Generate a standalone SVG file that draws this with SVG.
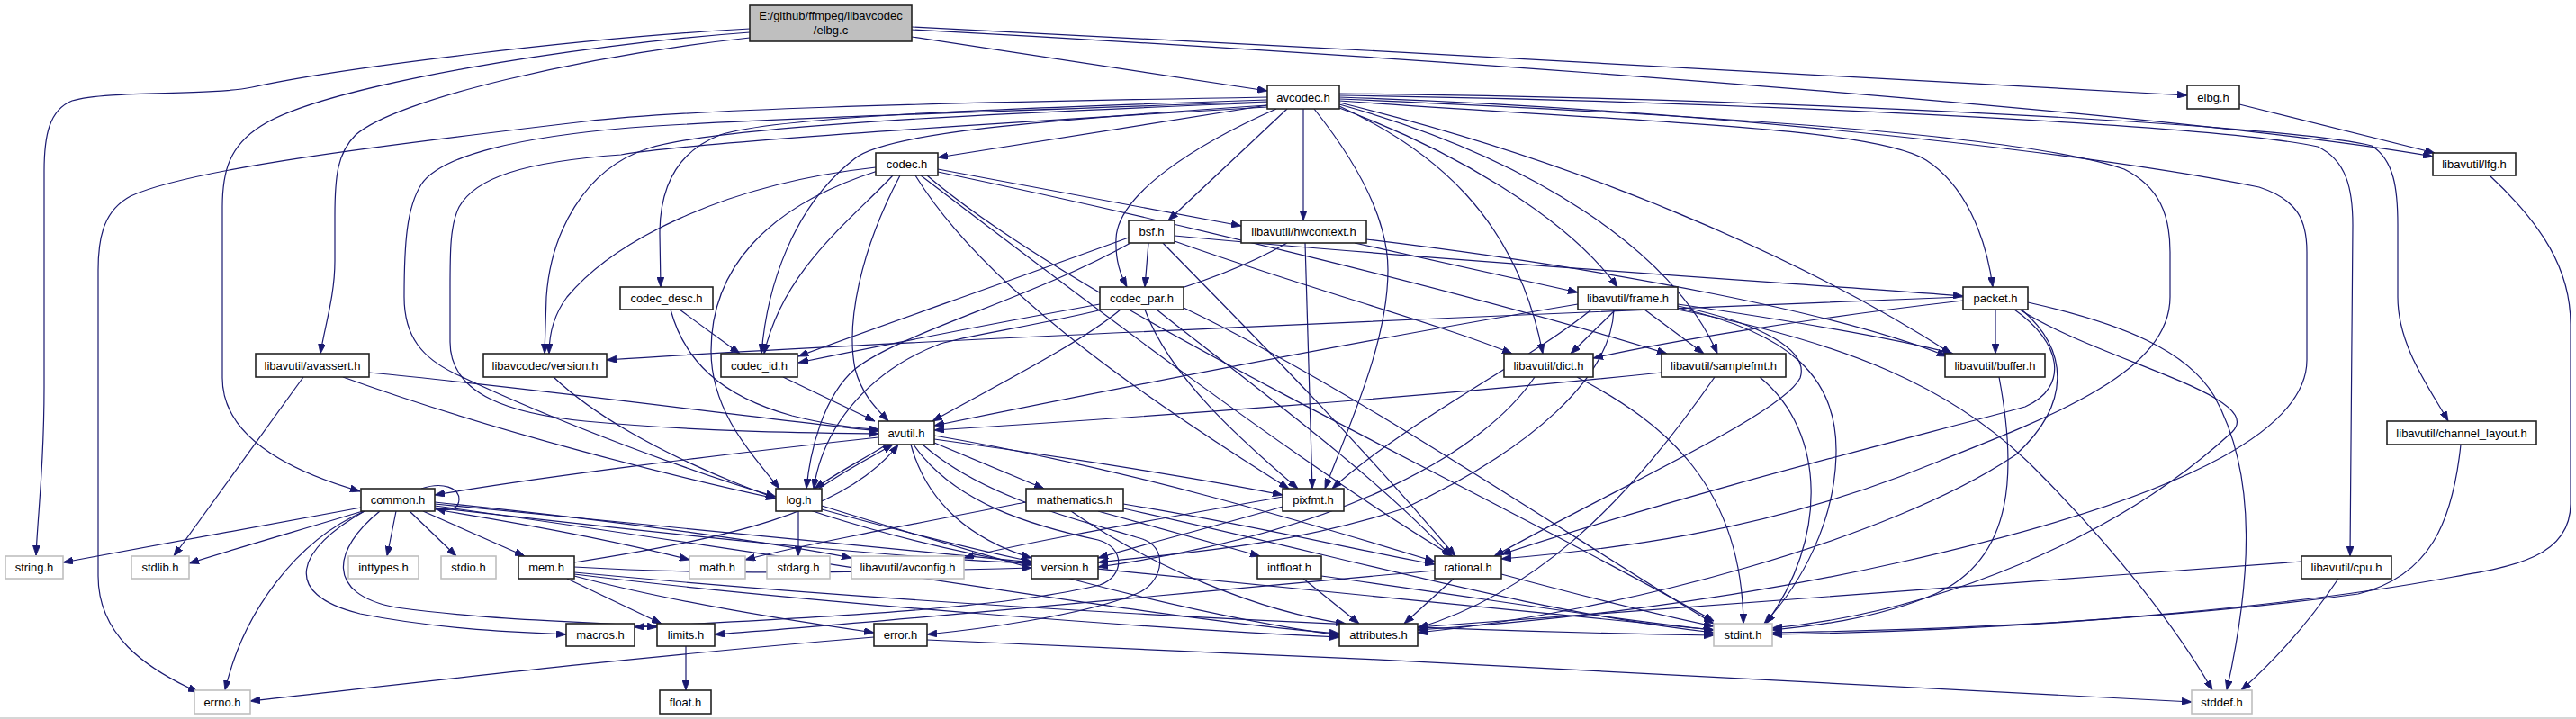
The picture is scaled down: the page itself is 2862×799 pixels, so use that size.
<svg xmlns="http://www.w3.org/2000/svg" width="2862" height="799" viewBox="0 0 2862 799">
<style>
.n rect{fill:#fff;stroke:#222;stroke-width:1.6}
.s rect{fill:#fff;stroke:#bfbfbf;stroke-width:1.6}
.r rect{fill:#bfbfbf;stroke:#222;stroke-width:1.6}
text{font-family:"Liberation Sans",Arial,sans-serif;font-size:13px;fill:#000;text-anchor:middle}
#edges path{fill:none;stroke:#191970;stroke-width:1.2;marker-end:url(#a)}
</style>
<defs>
<marker id="a" markerUnits="userSpaceOnUse" markerWidth="11" markerHeight="8" refX="11" refY="4" orient="auto">
<path d="M0,0 L11,4 L0,8 z" fill="#191970" stroke="#191970" stroke-width="0.8"/>
</marker>
</defs>
<rect x="0" y="0" width="2862" height="799" fill="#fff"/>
<line x1="0" y1="798" x2="2862" y2="798" stroke="#c8c8c8" stroke-width="1.5"/>
<g id="edges">
<path d="M833,32 C650,42 380,75 280,97 C230,107 120,100 80,112 C55,122 49,150 49,190 L49,430 C49,520 42,570 40,617"/>
<path d="M833,36 C640,50 360,95 290,140 C255,162 247,190 247,230 L247,420 C247,480 310,520 400,546"/>
<path d="M833,42 C650,62 440,110 395,150 C375,170 372,195 372,240 L372,290 C372,330 360,365 356,393"/>
<path d="M1013,41 L1408,101"/>
<path d="M1013,30 C1500,55 2150,88 2430,106"/>
<path d="M1013,33 C1700,70 2450,130 2703,174"/>
<path d="M2488,116 L2705,170"/>
<path d="M2766,195 C2825,250 2856,300 2856,360 L2856,560 C2856,620 2790,630 2720,642 C2580,668 2300,700 1969,705"/>
<path d="M1408,108 C1000,115 760,122 650,135 C420,162 210,188 145,218 C117,233 109,260 109,300 L109,640 C109,705 160,742 220,769"/>
<path d="M1408,111 C1100,121 860,130 800,150 C748,170 733,215 733,260 L734,319"/>
<path d="M1408,114 C1100,126 800,140 720,165 C648,188 612,260 607,330 L605,393"/>
<path d="M1408,117 C1150,134 985,148 950,176 C880,230 852,320 846,393"/>
<path d="M1408,119 C1050,140 760,160 690,172 C580,180 528,198 510,230 C500,250 500,280 500,320 L500,380 C500,440 570,460 650,468 C780,480 900,481 976,482"/>
<path d="M1408,113 C1100,124 820,133 700,142 C580,152 490,172 468,205 C452,230 449,270 449,330 C449,375 470,398 505,415 C620,470 770,525 862,552"/>
<path d="M1408,117 L1042,175"/>
<path d="M1430,121 L1298,245"/>
<path d="M1418,121 C1330,160 1242,215 1240,265 C1239,290 1245,305 1252,319"/>
<path d="M1448,121 L1448,245"/>
<path d="M1460,121 C1515,190 1542,250 1542,300 C1542,380 1500,470 1472,543"/>
<path d="M1488,118 C1590,165 1685,240 1714,393"/>
<path d="M1488,120 C1610,165 1740,240 1797,319"/>
<path d="M1488,116 C1700,175 1860,280 1908,393"/>
<path d="M1488,114 C1800,190 2040,310 2168,393"/>
<path d="M1488,112 C1800,135 2080,140 2140,178 C2182,205 2206,260 2214,319"/>
<path d="M1488,110 C1900,128 2250,150 2360,188 C2400,208 2411,240 2411,280 L2411,330 C2411,420 2260,470 2110,530 C1950,590 1800,610 1668,621"/>
<path d="M1488,108 C1900,122 2320,170 2510,208 C2553,222 2563,245 2563,280 L2563,400 C2563,485 2400,560 2110,625 C1900,672 1700,692 1575,700"/>
<path d="M1488,106 C1900,112 2460,138 2575,163 C2607,178 2614,210 2614,250 L2611,618"/>
<path d="M1488,104 C1900,108 2520,135 2635,162 C2660,178 2664,210 2664,250 L2664,330 C2664,385 2700,432 2720,468"/>
<path d="M1042,188 L1379,251"/>
<path d="M1042,191 C1300,245 1650,330 1852,393"/>
<path d="M992,195 C945,245 870,300 849,393"/>
<path d="M973,186 C800,205 680,270 630,330 C615,350 610,370 610,393"/>
<path d="M1000,195 C955,280 940,360 950,410 C958,440 975,455 987,468"/>
<path d="M975,190 C850,230 790,300 790,390 C790,460 840,510 866,543"/>
<path d="M1017,195 C1100,330 1300,460 1432,543"/>
<path d="M1023,195 C1200,330 1450,520 1614,618"/>
<path d="M1030,195 C1200,340 1600,520 1904,690"/>
<path d="M1276,270 L1272,319"/>
<path d="M1254,264 C1100,320 950,372 887,396"/>
<path d="M1305,262 C1600,290 2000,315 2181,329"/>
<path d="M1305,268 C1450,320 1600,360 1680,393"/>
<path d="M1292,270 C1380,360 1500,480 1617,618"/>
<path d="M1256,270 C1150,330 1000,370 950,410 C915,440 900,500 896,543"/>
<path d="M1450,270 L1458,543"/>
<path d="M1505,270 L1753,325"/>
<path d="M1518,266 C1800,300 2050,350 2163,396"/>
<path d="M1430,270 C1300,345 1100,365 1045,382 C970,410 915,470 904,543"/>
<path d="M755,344 L822,393"/>
<path d="M745,344 C760,400 800,440 880,462 C920,472 950,476 976,477"/>
<path d="M1222,338 C1100,360 960,388 887,403"/>
<path d="M1245,344 C1200,382 1100,432 1036,468"/>
<path d="M1272,344 C1300,420 1380,490 1442,543"/>
<path d="M1285,344 C1380,420 1520,520 1612,618"/>
<path d="M1315,342 C1500,430 1750,600 1904,693"/>
<path d="M1753,338 C1500,380 1200,440 1038,473"/>
<path d="M1864,338 C1980,355 2100,375 2170,393"/>
<path d="M1795,344 L1745,393"/>
<path d="M1827,344 L1893,393"/>
<path d="M1768,344 C1700,400 1560,470 1480,543"/>
<path d="M1864,340 C1960,360 2010,390 2000,420 C1980,460 1800,540 1660,618"/>
<path d="M1864,342 C1990,370 2040,420 2040,500 C2040,580 2000,650 1960,693"/>
<path d="M1864,344 C2050,380 2170,430 2260,520 C2350,610 2420,700 2458,767"/>
<path d="M1793,344 C1790,420 1700,500 1560,565 C1420,610 1300,615 1220,625"/>
<path d="M1752,419 C1850,470 1935,540 1937,693"/>
<path d="M1705,419 C1650,500 1500,590 1220,630"/>
<path d="M1846,414 C1600,440 1250,465 1038,478"/>
<path d="M1905,419 C1800,570 1700,660 1575,698"/>
<path d="M1955,419 C2030,480 2030,600 1962,693"/>
<path d="M2221,419 C2240,520 2240,620 2150,660 C2080,690 2000,697 1969,700"/>
<path d="M2217,344 L2217,393"/>
<path d="M2181,334 C2000,355 1850,380 1770,398"/>
<path d="M2181,330 C1800,345 1000,378 674,400"/>
<path d="M2238,344 C2290,380 2300,430 2250,452 C2150,480 1900,540 1668,616"/>
<path d="M2244,344 C2330,400 2520,440 2480,480 C2350,600 2150,680 1969,698"/>
<path d="M2246,344 C2300,390 2300,450 2240,505 C2100,600 1800,680 1575,703"/>
<path d="M2253,336 C2360,360 2430,390 2460,440 C2510,530 2500,650 2474,767"/>
<path d="M2734,494 C2725,580 2700,640 2620,660 C2400,690 2150,700 1969,703"/>
<path d="M2598,643 C2560,700 2520,740 2490,767"/>
<path d="M2557,624 C2200,650 1800,680 1575,697"/>
<path d="M337,419 L193,618"/>
<path d="M410,414 C600,432 850,466 976,479"/>
<path d="M381,419 C550,480 750,530 862,554"/>
<path d="M615,419 C700,500 900,585 1146,628"/>
<path d="M870,419 L972,468"/>
<path d="M976,486 C800,505 600,530 483,550"/>
<path d="M1015,494 C1060,560 1150,585 1220,600 C1250,608 1250,640 1222,650 C1100,680 850,688 705,697"/>
<path d="M1025,494 C1100,560 1230,585 1272,600 C1300,612 1290,650 1262,660 C1200,685 1080,700 1030,705"/>
<path d="M1038,484 C1250,520 1450,580 1594,624"/>
<path d="M1012,494 C1030,560 1080,600 1146,620"/>
<path d="M1038,492 L1160,543"/>
<path d="M985,494 C960,510 930,525 905,543"/>
<path d="M1038,488 C1200,510 1350,535 1425,550"/>
<path d="M887,568 L887,618"/>
<path d="M910,543 C940,522 968,508 992,494"/>
<path d="M913,562 C1100,620 1300,680 1488,706"/>
<path d="M913,566 C1000,590 1080,610 1146,624"/>
<path d="M1140,558 C1000,585 880,608 828,622"/>
<path d="M1220,568 L1400,618"/>
<path d="M1248,560 C1400,585 1500,610 1594,627"/>
<path d="M1190,568 C1280,630 1400,680 1495,693"/>
<path d="M1248,565 C1500,620 1700,680 1904,703"/>
<path d="M1425,552 C1300,575 1150,600 1071,620"/>
<path d="M1425,563 C1350,585 1270,605 1220,620"/>
<path d="M401,564 L70,625"/>
<path d="M403,568 C330,590 260,610 210,626"/>
<path d="M405,568 C330,600 270,680 250,767"/>
<path d="M440,568 L430,618"/>
<path d="M455,568 L507,618"/>
<path d="M470,568 L583,618"/>
<path d="M468,543 C492,535 510,542 510,555 C510,566 498,569 484,565"/>
<path d="M405,568 C330,610 310,660 400,682 C480,698 560,702 629,705"/>
<path d="M422,568 C370,610 360,660 440,675 C550,690 650,690 730,697"/>
<path d="M483,566 C600,585 700,605 766,622"/>
<path d="M483,560 C900,600 1500,660 1904,700"/>
<path d="M483,562 C900,620 1300,690 1488,704"/>
<path d="M483,564 C800,600 1000,620 1146,626"/>
<path d="M483,558 C700,580 870,605 946,620"/>
<path d="M638,625 C800,600 940,570 998,494"/>
<path d="M630,643 L735,693"/>
<path d="M638,640 C750,670 880,690 971,703"/>
<path d="M638,638 C900,670 1300,700 1488,708"/>
<path d="M638,636 C1000,670 1500,700 1904,706"/>
<path d="M638,630 C800,640 1000,635 1146,631"/>
<path d="M762,718 L762,767"/>
<path d="M971,708 C700,730 450,760 278,779"/>
<path d="M1030,711 C1500,730 2100,760 2435,780"/>
<path d="M1668,638 C1750,660 1850,685 1904,696"/>
<path d="M1615,643 L1560,693"/>
<path d="M1594,634 C1300,660 1000,690 794,705"/>
<path d="M1448,643 L1510,693"/>
<path d="M1468,640 C1650,665 1800,690 1904,700"/>
</g>
<g id="node-elbg_c" class="r"><rect x="833" y="6" width="180" height="40"/><text x="923" y="22">E:/github/ffmpeg/libavcodec</text><text x="923" y="38">/elbg.c</text></g>
<g id="node-avcodec" class="n"><rect x="1408" y="95" width="80" height="26"/><text x="1448" y="113">avcodec.h</text></g>
<g id="node-elbg_h" class="n"><rect x="2430" y="95" width="58" height="26"/><text x="2459" y="113">elbg.h</text></g>
<g id="node-codec" class="n"><rect x="973" y="170" width="69" height="25"/><text x="1007.5" y="187">codec.h</text></g>
<g id="node-lfg" class="n"><rect x="2703" y="170" width="92" height="25"/><text x="2749" y="187">libavutil/lfg.h</text></g>
<g id="node-bsf" class="n"><rect x="1254" y="245" width="51" height="25"/><text x="1279.5" y="262">bsf.h</text></g>
<g id="node-hwcontext" class="n"><rect x="1379" y="245" width="139" height="25"/><text x="1448.5" y="262">libavutil/hwcontext.h</text></g>
<g id="node-codec_desc" class="n"><rect x="689" y="319" width="103" height="25"/><text x="740.5" y="336">codec_desc.h</text></g>
<g id="node-codec_par" class="n"><rect x="1222" y="319" width="93" height="25"/><text x="1268.5" y="336">codec_par.h</text></g>
<g id="node-frame" class="n"><rect x="1753" y="319" width="111" height="25"/><text x="1808.5" y="336">libavutil/frame.h</text></g>
<g id="node-packet" class="n"><rect x="2181" y="319" width="72" height="25"/><text x="2217" y="336">packet.h</text></g>
<g id="node-avassert" class="n"><rect x="284" y="393" width="126" height="26"/><text x="347" y="411">libavutil/avassert.h</text></g>
<g id="node-lavc_version" class="n"><rect x="537" y="393" width="137" height="26"/><text x="605.5" y="411">libavcodec/version.h</text></g>
<g id="node-codec_id" class="n"><rect x="801" y="393" width="85" height="26"/><text x="843.5" y="411">codec_id.h</text></g>
<g id="node-dict" class="n"><rect x="1671" y="393" width="99" height="26"/><text x="1720.5" y="411">libavutil/dict.h</text></g>
<g id="node-samplefmt" class="n"><rect x="1846" y="393" width="138" height="26"/><text x="1915" y="411">libavutil/samplefmt.h</text></g>
<g id="node-buffer" class="n"><rect x="2161" y="393" width="111" height="26"/><text x="2216.5" y="411">libavutil/buffer.h</text></g>
<g id="node-avutil" class="n"><rect x="976" y="468" width="62" height="26"/><text x="1007" y="486">avutil.h</text></g>
<g id="node-channel_layout" class="n"><rect x="2652" y="468" width="166" height="26"/><text x="2735" y="486">libavutil/channel_layout.h</text></g>
<g id="node-common" class="n"><rect x="401" y="543" width="82" height="25"/><text x="442" y="560">common.h</text></g>
<g id="node-log" class="n"><rect x="862" y="543" width="51" height="25"/><text x="887.5" y="560">log.h</text></g>
<g id="node-mathematics" class="n"><rect x="1140" y="543" width="108" height="25"/><text x="1194" y="560">mathematics.h</text></g>
<g id="node-pixfmt" class="n"><rect x="1425" y="543" width="68" height="25"/><text x="1459" y="560">pixfmt.h</text></g>
<g id="node-string" class="s"><rect x="6" y="618" width="64" height="25"/><text x="38" y="635">string.h</text></g>
<g id="node-stdlib" class="s"><rect x="146" y="618" width="64" height="25"/><text x="178" y="635">stdlib.h</text></g>
<g id="node-inttypes" class="s"><rect x="387" y="618" width="78" height="25"/><text x="426" y="635">inttypes.h</text></g>
<g id="node-stdio" class="s"><rect x="490" y="618" width="61" height="25"/><text x="520.5" y="635">stdio.h</text></g>
<g id="node-mem" class="n"><rect x="576" y="618" width="62" height="25"/><text x="607" y="635">mem.h</text></g>
<g id="node-math" class="s"><rect x="766" y="618" width="62" height="25"/><text x="797" y="635">math.h</text></g>
<g id="node-stdarg" class="s"><rect x="852" y="618" width="70" height="25"/><text x="887" y="635">stdarg.h</text></g>
<g id="node-avconfig" class="s"><rect x="946" y="618" width="125" height="25"/><text x="1008.5" y="635">libavutil/avconfig.h</text></g>
<g id="node-version" class="n"><rect x="1146" y="618" width="74" height="25"/><text x="1183" y="635">version.h</text></g>
<g id="node-intfloat" class="n"><rect x="1397" y="618" width="71" height="25"/><text x="1432.5" y="635">intfloat.h</text></g>
<g id="node-rational" class="n"><rect x="1594" y="618" width="74" height="25"/><text x="1631" y="635">rational.h</text></g>
<g id="node-cpu" class="n"><rect x="2557" y="618" width="100" height="25"/><text x="2607" y="635">libavutil/cpu.h</text></g>
<g id="node-macros" class="n"><rect x="629" y="693" width="76" height="25"/><text x="667" y="710">macros.h</text></g>
<g id="node-limits" class="n"><rect x="730" y="693" width="64" height="25"/><text x="762" y="710">limits.h</text></g>
<g id="node-error" class="n"><rect x="971" y="693" width="59" height="25"/><text x="1000.5" y="710">error.h</text></g>
<g id="node-attributes" class="n"><rect x="1488" y="693" width="87" height="25"/><text x="1531.5" y="710">attributes.h</text></g>
<g id="node-stdint" class="s"><rect x="1904" y="693" width="65" height="25"/><text x="1936.5" y="710">stdint.h</text></g>
<g id="node-errno" class="s"><rect x="216" y="767" width="62" height="26"/><text x="247" y="785">errno.h</text></g>
<g id="node-float" class="n"><rect x="733" y="767" width="57" height="26"/><text x="761.5" y="785">float.h</text></g>
<g id="node-stddef" class="s"><rect x="2435" y="767" width="67" height="26"/><text x="2468.5" y="785">stddef.h</text></g>
</svg>
